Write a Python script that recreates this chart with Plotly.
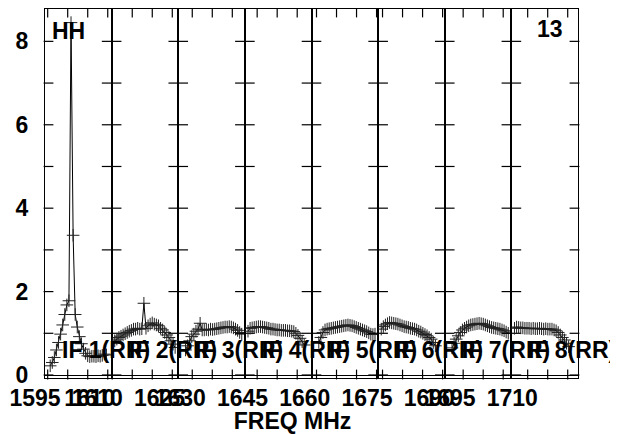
import math
import plotly.graph_objects as go

# ---------------- data ----------------
if_labels = ["IF 1(RR)", "IF 2(RR)", "IF 3(RR)", "IF 4(RR)",
             "IF 5(RR)", "IF 6(RR)", "IF 7(RR)", "IF 8(RR)"]
n_chan = 32
chan_width = 0.52  # MHz
if_start = [1594.33, 1609.85, 1626.50, 1641.93, 1658.75, 1673.90, 1690.40, 1705.93]
first_chan = [2, 1, 3, 1, 3, 1, 3, 1]

if1 = [0.22, 0.30, 0.42, 0.60, 0.78, 0.98, 1.20, 1.45, 1.68, 1.78, 8.45, 3.35,
       1.45, 1.15, 0.92, 0.75, 0.62, 0.52, 0.46, 0.44, 0.45, 0.45, 0.44, 0.46,
       0.45, 0.47, 0.50, 0.48]
if2 = [0.82, 0.86, 0.90, 0.93, 0.96, 0.99, 1.02, 1.05, 1.07, 1.10, 1.10, 1.12,
       1.10, 1.11, 1.72, 1.12, 1.18, 1.22, 1.25, 1.22, 1.20, 1.18, 1.12, 1.08,
       1.02, 0.96, 0.90, 0.82, 0.74, 0.66]
if3 = [0.60, 0.70, 0.82, 0.92, 0.98, 1.05, 1.10, 1.24, 1.08, 1.08, 1.09, 1.08,
       1.10, 1.09, 1.10, 1.11, 1.12, 1.13, 1.14, 1.15, 1.15, 1.16, 1.15, 1.13,
       1.10, 1.07, 1.02, 0.98]
if4 = [1.05, 1.12, 1.13, 1.14, 1.15, 1.16, 1.16, 1.15, 1.14, 1.13, 1.12, 1.10,
       1.10, 1.09, 1.08, 1.08, 1.07, 1.07, 1.07, 1.06, 1.06, 1.05, 1.04, 1.00,
       0.95, 0.88, 0.80, 0.72]
if5 = [0.78, 0.90, 1.02, 1.08, 1.10, 1.11, 1.12, 1.13, 1.14, 1.15, 1.16, 1.17,
       1.18, 1.19, 1.20, 1.19, 1.18, 1.16, 1.14, 1.12, 1.10, 1.08, 1.06, 1.04,
       1.01, 0.98, 0.97, 0.98]
if6 = [1.10, 1.16, 1.20, 1.23, 1.26, 1.25, 1.24, 1.23, 1.22, 1.20, 1.18, 1.16,
       1.15, 1.14, 1.12, 1.11, 1.10, 1.08, 1.05, 1.03, 1.00, 0.97, 0.94, 0.90,
       0.86, 0.78, 0.70]
if7 = [0.65, 0.76, 0.86, 0.94, 1.02, 1.08, 1.12, 1.15, 1.18, 1.20, 1.21, 1.22,
       1.23, 1.24, 1.23, 1.22, 1.20, 1.18, 1.16, 1.14, 1.13, 1.12, 1.11, 1.10,
       1.08, 1.06, 1.03, 1.00]
if8 = [1.12, 1.15, 1.14, 1.13, 1.13, 1.12, 1.12, 1.12, 1.11, 1.12, 1.11, 1.11,
       1.12, 1.11, 1.10, 1.11, 1.10, 1.10, 1.10, 1.08, 1.06, 1.02, 0.96, 0.90,
       0.84, 0.76, 0.68]
if_values = [if1, if2, if3, if4, if5, if6, if7, if8]

freq_label_vals = [1595, 1608.2, 1610, 1625, 1630, 1645, 1660, 1675, 1690, 1695, 1710]
freq_label_text = ["1595", "1610", "1610", "1625", "1630", "1645", "1660",
                   "1675", "1690", "1695", "1710"]
y_tick_vals = [0, 1, 2, 3, 4, 5, 6, 7, 8]
y_tick_text = ["0", "", "2", "", "4", "", "6", "", "8"]
freq_tick_step = 5  # MHz

# ---------------- layout geometry ----------------
# the page body adds an 8 px margin, so the figure is 8 px smaller
OFF = 8
W, H = 618 - OFF, 434 - OFF
plot_l, plot_r, plot_t, plot_b = 45 - OFF, 578 - OFF, 9 - OFF, 378 - OFF
y_range = [-0.072, 8.776]
FONT = "Liberation Sans, Arial, sans-serif"
fs = 23
bold = dict(family=FONT, size=fs, color="black", weight="bold")

fig = go.Figure()
npan = len(if_values)
pw = (plot_r - plot_l) / npan
ph = plot_b - plot_t
ydom = [1 - plot_b / H, 1 - plot_t / H]
span = n_chan * chan_width
x_per_px = span / pw
y_per_px = (y_range[1] - y_range[0]) / ph
tick_len = 7

layout = {}

# global frequency label axis (x / y); its centre sets the title position
px_per_mhz = 4.15
lab_w = 569
f_left = 1595 - (35 - OFF) / px_per_mhz
fig.add_trace(go.Scatter(x=[f_left], y=[0], mode="markers",
                         marker=dict(opacity=0), xaxis="x", yaxis="y",
                         showlegend=False, hoverinfo="skip"))
layout["xaxis"] = dict(
    domain=[0, lab_w / W], range=[f_left, f_left + lab_w / px_per_mhz],
    anchor="y", showgrid=False, zeroline=False, showline=False, ticks="",
    tickmode="array", tickvals=freq_label_vals, ticktext=freq_label_text,
    tickangle=0, ticklabelstandoff=4, tickfont=bold,
    title=dict(text="FREQ MHz", standoff=4, font=bold))
layout["yaxis"] = dict(domain=ydom, range=[0, 1], anchor="x", visible=False)

tick_line = dict(color="black", width=1.2)


def tick_trace(xv, yv, symbol, size, sfx):
    return go.Scatter(x=xv, y=yv, mode="markers", cliponaxis=False,
                      marker=dict(symbol=symbol, size=size, line=tick_line),
                      xaxis="x" + sfx, yaxis="y" + sfx, showlegend=False,
                      hoverinfo="skip")


for k in range(npan):
    sfx = str(k + 2)
    f0, f1 = if_start[k], if_start[k] + span
    xs = [f0 + (first_chan[k] + i + 0.5) * chan_width
          for i in range(len(if_values[k]))]
    fig.add_trace(go.Scatter(
        x=xs, y=if_values[k], mode="lines+markers",
        line=dict(color="black", width=1),
        marker=dict(symbol="cross-thin", size=9,
                    line=dict(color="#222222", width=1)),
        xaxis="x" + sfx, yaxis="y" + sfx, showlegend=False, hoverinfo="skip"))

    nt = len(y_tick_vals)
    # y ticks crossing the border shared with the next panel
    if k < npan - 1:
        fig.add_trace(tick_trace([f1] * nt, y_tick_vals, "line-ew",
                                 2 * tick_len, sfx))
    # inward y ticks on the outer left / right borders
    if k == 0:
        fig.add_trace(tick_trace([f0 + tick_len / 2 * x_per_px] * nt,
                                 y_tick_vals, "line-ew", tick_len, sfx))
    if k == npan - 1:
        fig.add_trace(tick_trace([f1 - tick_len / 2 * x_per_px] * nt,
                                 y_tick_vals, "line-ew", tick_len, sfx))
    # inward frequency ticks on the top / bottom borders
    fticks = [freq_tick_step * m for m in
              range(math.ceil(f0 / freq_tick_step),
                    math.floor(f1 / freq_tick_step) + 1)]
    nf = len(fticks)
    fig.add_trace(tick_trace(
        fticks * 2,
        [y_range[1] - tick_len / 2 * y_per_px] * nf
        + [y_range[0] + tick_len / 2 * y_per_px] * nf,
        "line-ns", tick_len, sfx))

    x0 = (plot_l + k * pw) / W
    x1 = (plot_l + (k + 1) * pw) / W
    layout["xaxis" + sfx] = dict(
        domain=[x0, x1], range=[f0, f1],
        anchor="y" + sfx, showgrid=False, zeroline=False,
        showline=True, linecolor="black", linewidth=1, mirror=True,
        ticks="", showticklabels=False)
    layout["yaxis" + sfx] = dict(
        domain=ydom, range=y_range,
        anchor="x" + sfx, showgrid=False,
        zeroline=True, zerolinecolor="black", zerolinewidth=1,
        showline=True, linecolor="black", linewidth=1, mirror=True,
        ticks="", tickmode="array", tickvals=y_tick_vals, ticktext=y_tick_text,
        showticklabels=(k == 0), ticklabelstandoff=11, tickfont=bold)
    fig.add_annotation(
        text=if_labels[k], xref="x" + sfx + " domain", yref="y" + sfx,
        x=15 / pw, y=0.6, xanchor="left", yanchor="middle", showarrow=False,
        font=bold)

fig.add_annotation(text="HH", xref="paper", yref="paper", x=(50 - OFF) / W,
                   y=1 - (31 - OFF) / H, xanchor="left", yanchor="middle",
                   showarrow=False, font=bold)
fig.add_annotation(text="13", xref="paper", yref="paper", x=(565 - OFF) / W,
                   y=1 - (29 - OFF) / H, xanchor="right", yanchor="middle",
                   showarrow=False, font=bold)

fig.update_layout(
    width=W, height=H, margin=dict(l=0, r=0, t=0, b=0, autoexpand=False),
    paper_bgcolor="white", plot_bgcolor="rgba(0,0,0,0)", **layout)

fig.write_html("out.html")
